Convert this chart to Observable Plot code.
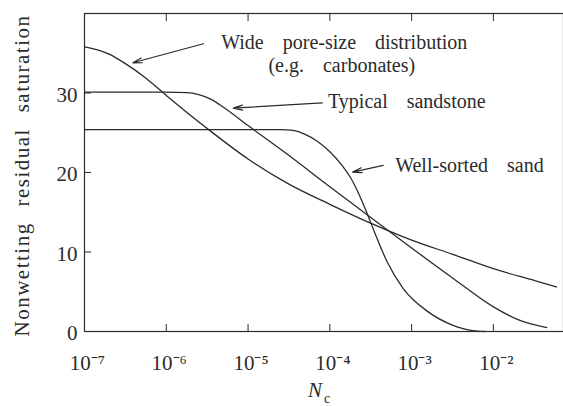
<!DOCTYPE html>
<html>
<head>
<meta charset="utf-8">
<script src="https://cdn.jsdelivr.net/npm/d3@7"></script>
<script src="https://cdn.jsdelivr.net/npm/@observablehq/plot@0.6"></script>
<style>
  html, body { margin: 0; padding: 0; background: #fff; }
  #chart svg .annot text { word-spacing: 14px; }
  #chart svg .ytitle text { letter-spacing: 1.5px; word-spacing: 9px; }
</style>
</head>
<body>
<div id="chart"></div>
<script>
// ---- Data ----
const seriesNames = ["Wide pore-size distribution", "Typical sandstone", "Well-sorted sand"];

// Wide pore-size distribution (e.g. carbonates)
const carbNc = [1.0e-7, 1.41e-7, 2.0e-7, 3.16e-7, 5.6e-7, 1.0e-6, 3.2e-6, 1.0e-5, 3.2e-5, 1.0e-4, 3.2e-4, 1.0e-3, 3.2e-3, 1.0e-2, 3.2e-2, 5.9e-2];
const carbS  = [35.8, 35.45, 34.9, 33.7, 31.9, 29.7, 25.5, 21.7, 18.5, 16.0, 13.6, 11.5, 9.7, 7.9, 6.4, 5.6];

// Typical sandstone
const sandstoneNc = [1.0e-7, 1.0e-6, 1.78e-6, 2.5e-6, 3.55e-6, 5.0e-6, 1.0e-5, 3.2e-5, 1.0e-4, 3.2e-4, 1.0e-3, 3.2e-3, 1.0e-2, 2.0e-2, 4.5e-2];
const sandstoneS  = [30.1, 30.1, 30.05, 29.8, 29.2, 28.2, 25.9, 22.1, 18.2, 14.3, 10.5, 6.7, 3.1, 1.5, 0.5];

// Well-sorted sand
const sandNc = [1.0e-7, 2.5e-5, 3.55e-5, 5.0e-5, 7.1e-5, 1.0e-4, 1.41e-4, 1.78e-4, 2.24e-4, 2.82e-4, 3.55e-4, 5.0e-4, 7.9e-4, 1.58e-3, 3.16e-3, 5.6e-3, 7.9e-3];
const sandS  = [25.4, 25.4, 25.3, 24.8, 23.9, 22.6, 20.9, 19.4, 17.4, 15.0, 12.4, 8.8, 5.4, 2.5, 0.8, 0.1, 0.0];

// Axis ticks
const xTicks = [1e-7, 1e-6, 1e-5, 1e-4, 1e-3, 1e-2];
const xTickLabels = ["10\u207B\u2077", "10\u207B\u2076", "10\u207B\u2075", "10\u207B\u2074", "10\u207B\u00B3", "10\u207B\u00B2"];
const yTicks = [0, 10, 20, 30];

// Annotations (data coordinates)
const annotTexts = ["Wide pore-size distribution", "(e.g. carbonates)", "Typical sandstone", "Well-sorted sand"];
const annotX = [1.5e-4, 1.4e-4, 9.5e-5, 6.3e-4];
const annotY = [36.3, 33.5, 28.9, 20.9];
const annotAnchor = ["middle", "middle", "start", "start"];

const arrowX1 = [2.85e-6, 8.1e-5, 4.5e-4];
const arrowY1 = [36.2, 28.75, 20.9];
const arrowX2 = [3.9e-7, 6.6e-6, 1.9e-4];
const arrowY2 = [33.8, 28.1, 20.05];

// ---- Build tables ----
const rows = [];
[[carbNc, carbS], [sandstoneNc, sandstoneS], [sandNc, sandS]].forEach(([xs, ys], i) => {
  xs.forEach((x, j) => rows.push({series: seriesNames[i], Nc: x, S: ys[j]}));
});
const annots = annotTexts.map((t, i) => ({text: t, x: annotX[i], y: annotY[i], anchor: annotAnchor[i]}));
const arrows = arrowX1.map((x, i) => ({x1: x, y1: arrowY1[i], x2: arrowX2[i], y2: arrowY2[i]}));

const ink = "#2b2b2b";
const serif = "'Liberation Serif', 'Times New Roman', serif";

const chart = Plot.plot({
  width: 563,
  height: 406,
  marginLeft: 84,
  marginRight: 0,
  marginTop: 13,
  marginBottom: 75,
  style: {fontFamily: serif, color: ink, background: "#fff", overflow: "visible"},
  x: {type: "log", domain: [1e-7, 0.072]},
  y: {domain: [0, 40]},
  marks: [
    Plot.frame({stroke: ink, strokeWidth: 1.2}),
    // bottom: inward ticks + labels
    Plot.axisX({ticks: xTicks, tickSize: 7, dy: -7, tickFormat: () => "", label: null, stroke: ink}),
    Plot.axisX({ticks: xTicks, tickSize: 0, tickPadding: 24, fontSize: 21, dx: 3,
      tickFormat: d => xTickLabels[xTicks.indexOf(d)], label: null}),
    // top: inward ticks
    Plot.axisX({anchor: "top", ticks: xTicks, tickSize: 7, dy: 7, tickFormat: () => "", label: null, stroke: ink}),
    // left: inward ticks + labels
    Plot.axisY({ticks: yTicks, tickSize: 7, dx: 7, tickFormat: () => "", label: null, stroke: ink}),
    Plot.axisY({ticks: yTicks, tickSize: 0, tickPadding: 7, dy: 2, fontSize: 21, label: null}),
    // y axis title
    Plot.text(["Nonwetting residual saturation"], {frameAnchor: "left", rotate: -90, dx: -62, dy: 3,
      fontSize: 21, fill: ink, textAnchor: "middle", lineAnchor: "middle", className: "ytitle"}),
    // curves
    Plot.line(rows, {x: "Nc", y: "S", z: "series", curve: "monotone-x", stroke: ink, strokeWidth: 1.3}),
    // annotations
    Plot.arrow(arrows, {x1: "x1", y1: "y1", x2: "x2", y2: "y2", stroke: ink, strokeWidth: 1.2, headLength: 12, headAngle: 30}),
    Plot.text(annots.filter(d => d.anchor === "middle"), {x: "x", y: "y", text: "text", textAnchor: "middle", fontSize: 20, fill: ink, className: "annot"}),
    Plot.text(annots.filter(d => d.anchor === "start"), {x: "x", y: "y", text: "text", textAnchor: "start", fontSize: 20, fill: ink, className: "annot"}),
    // x axis title N_c
    Plot.text(["N"], {frameAnchor: "bottom", dx: -9, dy: 65, fontSize: 21, fontStyle: "italic", fill: ink}),
    Plot.text(["c"], {frameAnchor: "bottom", dx: 3, dy: 71, fontSize: 14, fill: ink})
  ]
});
document.getElementById("chart").appendChild(chart);
</script>
</body>
</html>
